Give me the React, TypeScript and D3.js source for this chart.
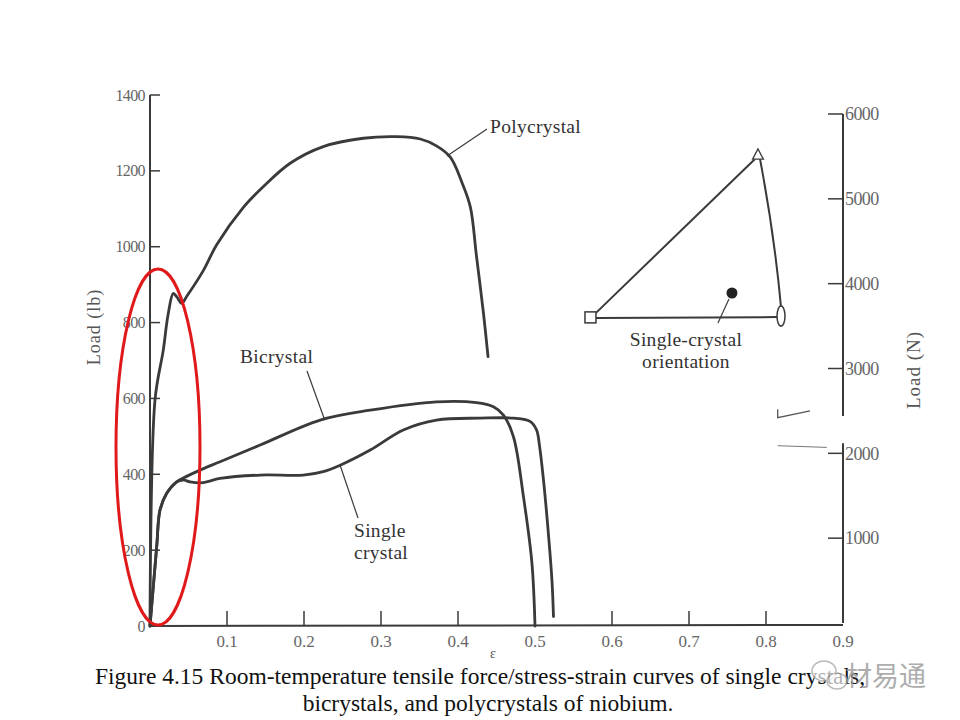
import React from 'react'
import * as d3 from 'd3'

type Pt = [number, number] // [strain, load (lb)]

// curves
const polycrystal: Pt[] = [
    [0, 0], [0.0065, 596], [0.0173, 728], [0.0234, 820], [0.0303, 877], [0.035, 867],
    [0.0412, 851], [0.048, 870], [0.0692, 937], [0.0866, 1005],
    [0.121, 1103], [0.147, 1158], [0.182, 1220], [0.225, 1264], [0.277, 1286],
    [0.32, 1290], [0.351, 1284], [0.372, 1266], [0.39, 1236], [0.405, 1170],
    [0.416, 1105], [0.424, 975], [0.433, 826], [0.439, 710],
]

const bicrystal: Pt[] = [
    [0, 0], [0.0087, 209], [0.013, 306], [0.0217, 350], [0.0347, 380], [0.0432, 390],
    [0.065, 411], [0.091, 433], [0.143, 477], [0.221, 543], [0.286, 569], [0.372, 591],
    [0.424, 589], [0.446, 578], [0.459, 556], [0.472, 499], [0.485, 341], [0.496, 166],
    [0.5, 0],
]

const singleCrystal: Pt[] = [
    [0, 0], [0.0087, 209], [0.013, 306], [0.0217, 350], [0.0347, 380], [0.0432, 385],
    [0.052, 380], [0.0692, 378], [0.091, 389], [0.143, 398], [0.199, 398], [0.225, 407],
    [0.247, 424], [0.286, 464], [0.329, 517], [0.372, 543], [0.429, 548], [0.472, 548],
    [0.494, 539], [0.502, 517], [0.506, 473], [0.511, 385], [0.517, 253], [0.522, 121],
    [0.524, 25],
]

const strainTicks = [0.1, 0.2, 0.3, 0.4, 0.5, 0.6, 0.7, 0.8, 0.9]
const lbTicks = [0, 200, 400, 600, 800, 1000, 1200, 1400]
const newtonTicks = [1000, 2000, 3000, 4000, 5000, 6000]

// stereographic triangle inset, in chart units
const insetSquare: Pt = [0.5727, 815]
const insetTriangle: Pt = [0.7896, 1242]
const insetOval: Pt = [0.8195, 817]
const insetDot: Pt = [0.7558, 878]

const caption1 = 'Figure 4.15 Room-temperature tensile force/stress-strain curves of single crystals,'
const caption2 = 'bicrystals, and polycrystals of niobium.'

const ink = '#3a3a3a'
const serif = '"Liberation Serif", "DejaVu Serif", serif'

const App = () => {
    const x = d3.scaleLinear().domain([0, 0.9]).range([150, 843])
    const y = d3.scaleLinear().domain([0, 1400]).range([626, 95])
    const yN = d3.scaleLinear().domain([0, 6000]).range([623, 114])

    const line = d3.line<Pt>()
        .x(d => x(d[0]))
        .y(d => y(d[1]))
        .curve(d3.curveCatmullRom.alpha(0.5))

    const curves = [polycrystal, bicrystal, singleCrystal]

    const sq = [x(insetSquare[0]), y(insetSquare[1])]
    const tri = [x(insetTriangle[0]), y(insetTriangle[1])]
    const ov = [x(insetOval[0]), y(insetOval[1])]
    const dot = [x(insetDot[0]), y(insetDot[1])]

    const arcPath = d3.path()
    arcPath.moveTo(tri[0] + 2, tri[1] + 4)
    arcPath.quadraticCurveTo((tri[0] + ov[0]) / 2 + 5, (tri[1] + ov[1]) / 2, ov[0], ov[1] - 9)

    const triSize = 6
    const triPts = [
        [tri[0], tri[1] - triSize],
        [tri[0] - triSize * 0.9, tri[1] + triSize * 0.7],
        [tri[0] + triSize * 0.9, tri[1] + triSize * 0.7],
    ].map(p => p.join(',')).join(' ')

    const labelStyle = { fontFamily: serif, fontSize: 19.5, fill: '#333', letterSpacing: 0.3 }

    return (
        <svg width={960} height={720} style={{ position: 'absolute', left: 0, top: 0, background: '#fff' }}>
            {/* left axis (lb) */}
            <line x1={x(0)} x2={x(0)} y1={y(1400)} y2={y(0)} stroke={ink} strokeWidth={2} />
            {lbTicks.map(t => (
                <g key={t}>
                    <line x1={x(0)} x2={x(0) + 10} y1={y(t)} y2={y(t)} stroke={ink} strokeWidth={1.5} />
                    <text x={x(0) - 5} y={y(t)} dy="0.35em" textAnchor="end" fontFamily={serif}
                        fontSize={16} fill="#666" letterSpacing={-0.6}>{t}</text>
                </g>
            ))}
            <text transform={`translate(100, 327) rotate(-90)`} textAnchor="middle" fontFamily={serif}
                fontSize={18} fill="#555" letterSpacing={1}>Load (lb)</text>

            {/* bottom axis */}
            <line x1={x(0)} x2={x(0.9)} y1={y(0)} y2={y(0) - 1} stroke={ink} strokeWidth={2} />
            {strainTicks.map(t => (
                <g key={t}>
                    {t < 0.9 && <line x1={x(t)} x2={x(t)} y1={y(0)} y2={y(0) - 15} stroke={ink} strokeWidth={1.5} />}
                    <text x={x(t)} y={y(0) + 21} textAnchor="middle" fontFamily={serif}
                        fontSize={17} fill="#666">{t.toFixed(1)}</text>
                </g>
            ))}
            <text x={493} y={658} textAnchor="middle" fontFamily={serif} fontSize={14} fill="#555">ε</text>

            {/* right axis (N) */}
            <line x1={x(0.9)} x2={x(0.9)} y1={yN(6000)} y2={yN(2440)} stroke={ink} strokeWidth={2} />
            <line x1={x(0.9)} x2={x(0.9)} y1={yN(2120)} y2={yN(0)} stroke={ink} strokeWidth={2} />
            {newtonTicks.map(t => (
                <g key={t}>
                    <line x1={x(0.9) - 15} x2={x(0.9)} y1={yN(t)} y2={yN(t)} stroke={ink} strokeWidth={1.5} />
                    <text x={x(0.9) + 2} y={yN(t)} dy="0.35em" fontFamily={serif} fontSize={18}
                        fill="#666" letterSpacing={-0.6}>{t}</text>
                </g>
            ))}
            <text transform={`translate(920, 370) rotate(-90)`} textAnchor="middle" fontFamily={serif}
                fontSize={19} fill="#555" letterSpacing={1}>Load (N)</text>

            {/* scan marks near the axis break */}
            <polyline points={`${x(0.8152)},${yN(2520)} ${x(0.8152)},${yN(2420)} ${x(0.8571)},${yN(2500)}`}
                fill="none" stroke="#555" strokeWidth={1.3} />
            <line x1={x(0.8152)} x2={x(0.879)} y1={yN(2090)} y2={yN(2070)} stroke="#777" strokeWidth={1} />

            {/* curves */}
            {curves.map((c, i) => (
                <path key={i} d={line(c) ?? ''} fill="none" stroke={ink} strokeWidth={2.8}
                    strokeLinejoin="round" strokeLinecap="round" />
            ))}

            {/* curve labels */}
            <text x={490} y={133} {...labelStyle}>Polycrystal</text>
            <line x1={487} y1={129} x2={447} y2={156} stroke={ink} strokeWidth={1.2} />
            <text x={240} y={363} {...labelStyle}>Bicrystal</text>
            <line x1={307} y1={371} x2={324} y2={418} stroke={ink} strokeWidth={1.2} />
            <text x={354} y={537} {...labelStyle}>Single</text>
            <text x={354} y={559} {...labelStyle}>crystal</text>
            <line x1={358} y1={518} x2={340} y2={465} stroke={ink} strokeWidth={1.2} />

            {/* inset */}
            <line x1={sq[0] + 5} y1={sq[1] - 4} x2={tri[0] - 3} y2={tri[1] + 4} stroke={ink} strokeWidth={2} />
            <path d={arcPath.toString()} fill="none" stroke={ink} strokeWidth={2} />
            <line x1={sq[0] + 5} y1={sq[1] + 1} x2={ov[0] - 4} y2={ov[1] + 1} stroke={ink} strokeWidth={2} />
            <rect x={sq[0] - 6} y={sq[1] - 5} width={11} height={11} fill="#fff" stroke={ink} strokeWidth={1.5} />
            <polygon points={triPts} fill="#fff" stroke={ink} strokeWidth={1.3} />
            <ellipse cx={ov[0]} cy={ov[1]} rx={4} ry={10} fill="#fff" stroke={ink} strokeWidth={1.5} />
            <circle cx={dot[0]} cy={dot[1]} r={5.5} fill="#222" />
            <line x1={dot[0] - 3} y1={dot[1] + 6} x2={dot[0] - 14} y2={dot[1] + 30} stroke={ink} strokeWidth={1.2} />
            <text x={686} y={346} textAnchor="middle" {...labelStyle}>Single-crystal</text>
            <text x={686} y={368} textAnchor="middle" {...labelStyle}>orientation</text>

            {/* highlight */}
            <ellipse cx={158} cy={447} rx={42} ry={178} fill="none" stroke="#e01a1a" strokeWidth={3} />

            {/* caption */}
            <text x={95} y={684} fontFamily={serif} fontSize={23.5} fill="#111">{caption1}</text>
            <text x={488} y={711} textAnchor="middle" fontFamily={serif} fontSize={23.5} fill="#111">{caption2}</text>

            {/* watermark, drawn over the caption as in the source image */}
            <g opacity={0.8}>
                <ellipse cx={824} cy={671} rx={12} ry={10} fill="#fff" fillOpacity={0.85} stroke="#aaa" strokeWidth={1.5} />
                <ellipse cx={837} cy={681} rx={10} ry={8} fill="#fff" fillOpacity={0.85} stroke="#aaa" strokeWidth={1.5} />
                <text x={845} y={686} fontFamily='"Noto Sans CJK SC", sans-serif' fontSize={27} fill="#999">材易通</text>
            </g>
        </svg>
    )
}

export default App
